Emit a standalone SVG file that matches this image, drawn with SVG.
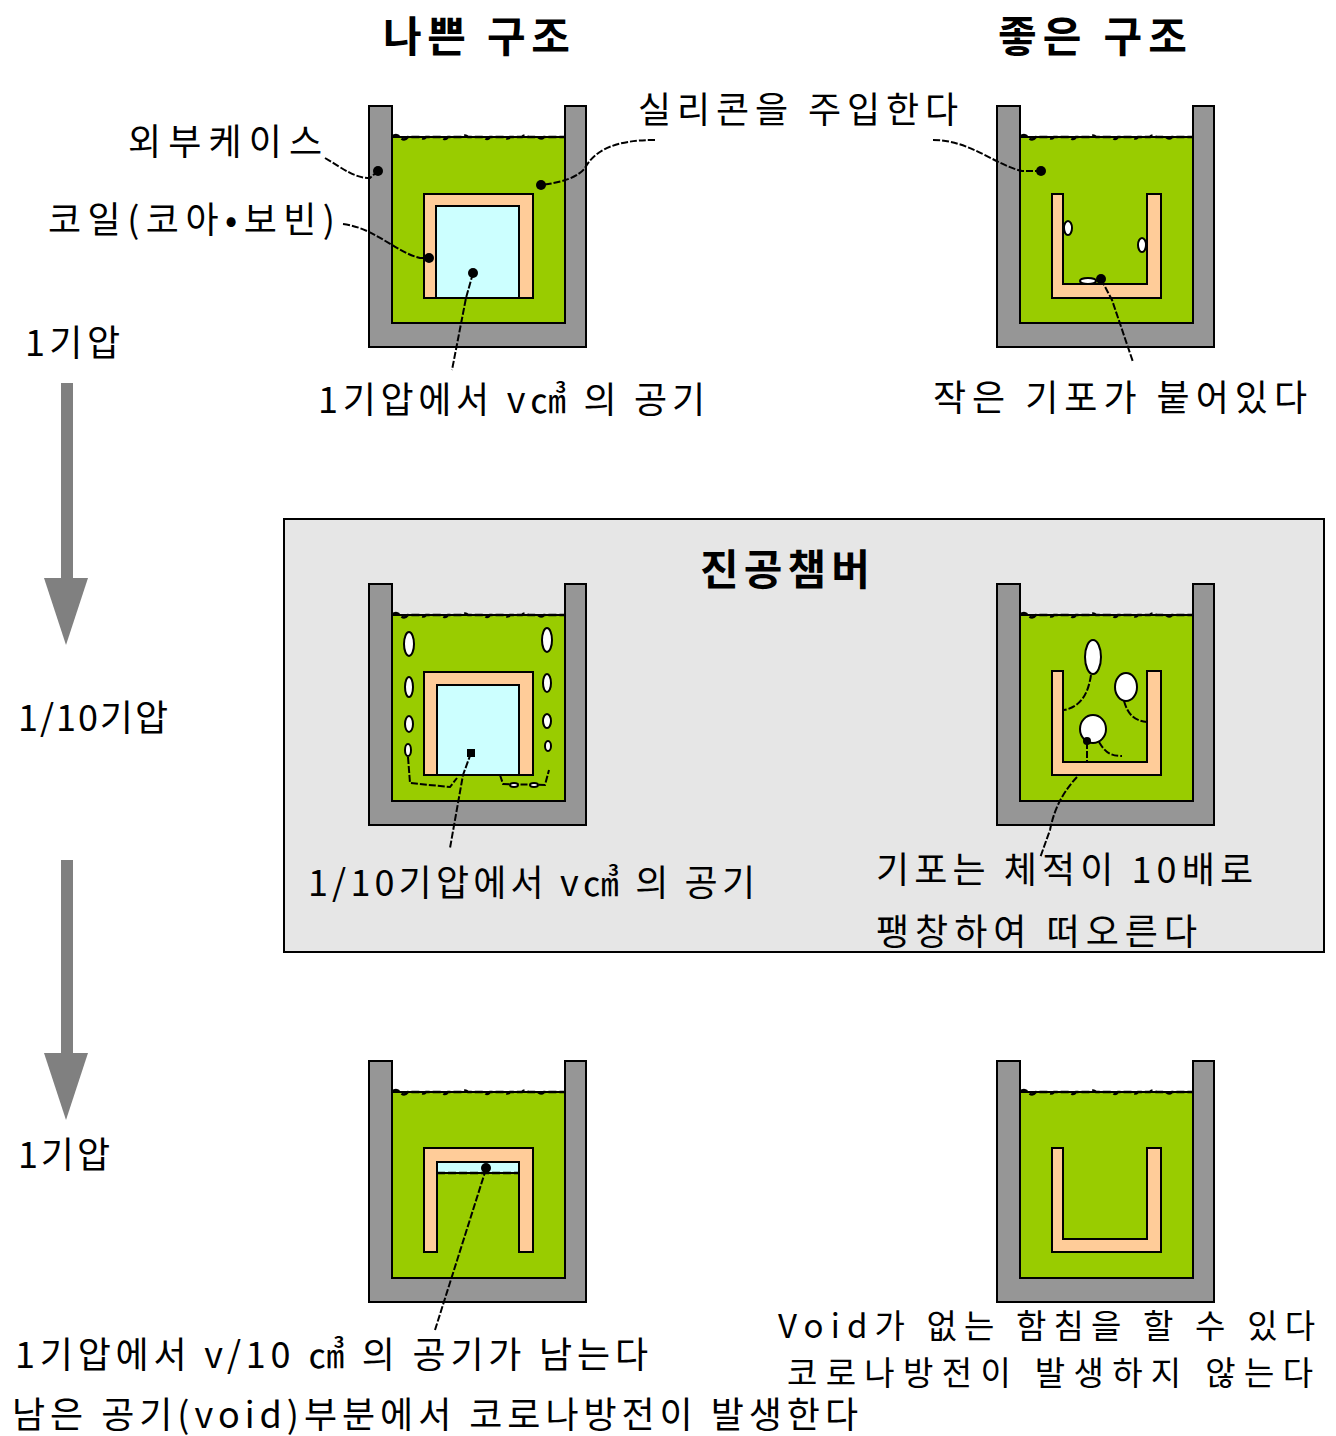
<svg xmlns="http://www.w3.org/2000/svg" xmlns:xlink="http://www.w3.org/1999/xlink" width="1336" height="1436" viewBox="0 0 1336 1436">
  <style>
    .txt { font-family: "Noto Sans CJK KR", "Noto Sans", sans-serif; font-size: 36px; fill: #000; }
    .txt-sm { font-family: "Noto Sans CJK KR", "Noto Sans", sans-serif; font-size: 33px; fill: #000; }
    .title { font-family: "Noto Sans CJK KR", "Noto Sans", sans-serif; font-size: 42px; font-weight: bold; fill: #000; }
    .wall { fill: #969696; stroke: #000; stroke-width: 2; }
    .liquid { fill: #99cc00; stroke: #000; stroke-width: 2; }
    .surface { fill: none; stroke: #000; stroke-width: 2.5; stroke-dasharray: 8 3; }
    .coil { fill: #ffcc99; stroke: #000; stroke-width: 2; }
    .core { fill: #ccffff; stroke: #000; stroke-width: 2; }
    .bubble { fill: #fff; stroke: #000; stroke-width: 2; }
    .lead { fill: none; stroke: #000; stroke-width: 2; stroke-dasharray: 7 2; }
    .dot { fill: #000; }
    .arrow { fill: #808080; }
  </style>
  <defs>
    <!-- container: gray case with silicone filled to the surface line -->
    <g id="cup">
      <path class="wall" d="M0,0 H23 V217 H196 V0 H217 V241 H0 Z"/>
      <rect class="liquid" x="23" y="31" width="173" height="186"/>
      <path class="surface" d="M23,31 q4,-4 8,0 q4,5 8,0 h12 q3,3 6,0 h16 q3,4 6,0 h14 q3,-3 6,0 h16 q3,4 6,0 h14 q3,3 6,0 h12 q3,-3 6,0 h10 q3,3 6,0 h21"/>
    </g>
  </defs>

  <rect width="1336" height="1436" fill="#fff"/>

  <!-- vacuum chamber background -->
  <g id="chamber">
    <rect x="284" y="519" width="1040" height="433" fill="#e6e6e6" stroke="#000" stroke-width="2"/>
    <text class="title" x="700" y="585" textLength="170" lengthAdjust="spacing">진공챔버</text>
  </g>

  <!-- column titles -->
  <g id="titles">
    <text class="title" x="383" y="52" textLength="187" lengthAdjust="spacing">나쁜 구조</text>
    <text class="title" x="998" y="52" textLength="189" lengthAdjust="spacing">좋은 구조</text>
  </g>

  <!-- pressure steps -->
  <g id="pressure">
    <text class="txt" x="25" y="356" textLength="95" lengthAdjust="spacing">1기압</text>
    <rect class="arrow" x="61" y="383" width="12" height="197"/>
    <polygon class="arrow" points="44,578 88,578 66,645"/>
    <text class="txt" x="18" y="731" textLength="150" lengthAdjust="spacing">1/10기압</text>
    <rect class="arrow" x="61" y="860" width="12" height="195"/>
    <polygon class="arrow" points="44,1053 88,1053 66,1120"/>
    <text class="txt" x="18" y="1168" textLength="92" lengthAdjust="spacing">1기압</text>
  </g>

  <!-- bad structure, 1 atm -->
  <g id="bad-1atm">
    <use xlink:href="#cup" x="369" y="106"/>
    <rect class="coil" x="424" y="194" width="109" height="104"/>
    <rect class="core" x="436" y="206" width="83" height="92"/>
  </g>

  <!-- good structure, 1 atm -->
  <g id="good-1atm">
    <use xlink:href="#cup" x="997" y="106"/>
    <path class="coil" d="M1052,194 H1063 V284 H1147 V194 H1161 V298 H1052 Z"/>
    <ellipse class="bubble" cx="1068" cy="228" rx="4" ry="7"/>
    <ellipse class="bubble" cx="1142" cy="245" rx="4" ry="7"/>
    <ellipse class="bubble" cx="1088" cy="281" rx="8" ry="3"/>
  </g>

  <!-- bad structure, 1/10 atm -->
  <g id="bad-low">
    <use xlink:href="#cup" x="369" y="584"/>
    <rect class="coil" x="424" y="672" width="109" height="103"/>
    <rect class="core" x="437" y="685" width="82" height="90"/>
    <ellipse class="bubble" cx="409" cy="644" rx="5" ry="12"/>
    <ellipse class="bubble" cx="409" cy="687" rx="4" ry="10"/>
    <ellipse class="bubble" cx="409" cy="724" rx="4" ry="8"/>
    <ellipse class="bubble" cx="408" cy="750" rx="3" ry="6"/>
    <ellipse class="bubble" cx="547" cy="640" rx="5" ry="12"/>
    <ellipse class="bubble" cx="547" cy="683" rx="4" ry="9"/>
    <ellipse class="bubble" cx="547" cy="721" rx="4" ry="7"/>
    <ellipse class="bubble" cx="548" cy="746" rx="3" ry="5"/>
    <path class="lead" d="M408,757 L410,783 L450,787 L457,778"/>
    <path class="lead" d="M500,775 L503,784 L545,785 L549,770"/>
    <ellipse class="bubble" cx="514" cy="785" rx="4" ry="2"/>
    <ellipse class="bubble" cx="534" cy="785" rx="4" ry="2"/>
  </g>

  <!-- good structure, 1/10 atm -->
  <g id="good-low">
    <use xlink:href="#cup" x="997" y="584"/>
    <path class="coil" d="M1052,671 H1063 V762 H1147 V671 H1161 V775 H1052 Z"/>
    <ellipse class="bubble" cx="1093" cy="657" rx="8" ry="17"/>
    <ellipse class="bubble" cx="1126" cy="687" rx="11" ry="14"/>
    <ellipse class="bubble" cx="1093" cy="729" rx="13" ry="14"/>
    <path class="lead" d="M1091,675 C1088,695 1080,707 1064,710"/>
    <path class="lead" d="M1124,701 C1128,715 1135,721 1147,722"/>
    <path class="lead" d="M1087,742 L1087,762"/>
    <path class="lead" d="M1099,742 C1105,752 1110,756 1122,756"/>
    <circle class="dot" cx="1087" cy="741" r="4"/>
  </g>

  <!-- bad structure, back to 1 atm -->
  <g id="bad-after">
    <use xlink:href="#cup" x="369" y="1061"/>
    <path class="coil" d="M424,1252 V1148 H533 V1252 H519 V1162 H437 V1252 Z"/>
    <rect class="core" x="437" y="1162" width="82" height="11"/>
    <path class="surface" d="M437,1173 h82"/>
  </g>

  <!-- good structure, back to 1 atm -->
  <g id="good-after">
    <use xlink:href="#cup" x="997" y="1061"/>
    <path class="coil" d="M1052,1148 H1063 V1239 H1147 V1148 H1161 V1252 H1052 Z"/>
  </g>

  <!-- leader lines -->
  <g id="connectors">
    <path class="lead" d="M325,158 C345,170 355,178 370,178 L378,171"/>
    <circle class="dot" cx="378" cy="171" r="5"/>
    <path class="lead" d="M655,140 C615,140 595,150 585,168 Q575,181 541,185"/>
    <circle class="dot" cx="541" cy="185" r="5"/>
    <path class="lead" d="M933,140 C970,140 995,165 1022,171 L1041,171"/>
    <circle class="dot" cx="1041" cy="171" r="5"/>
    <path class="lead" d="M343,224 C375,228 395,252 420,258 L429,258"/>
    <circle class="dot" cx="429" cy="258" r="5"/>
    <path class="lead" d="M473,273 L466,298 L452,370"/>
    <circle class="dot" cx="473" cy="273" r="5"/>
    <path class="lead" d="M1101,279 L1112,300 L1133,362"/>
    <circle class="dot" cx="1101" cy="279" r="5"/>
    <path class="lead" d="M471,753 L463,775 L450,848"/>
    <rect class="dot" x="467" y="749" width="8" height="8"/>
    <path class="lead" d="M1077,777 C1065,790 1055,805 1050,830 L1040,858"/>
    <path class="lead" d="M486,1169 L435,1330"/>
    <circle class="dot" cx="486" cy="1168" r="5"/>
  </g>

  <!-- labels -->
  <g id="labels">
    <text class="txt" x="128" y="155" textLength="194" lengthAdjust="spacing">외부케이스</text>
    <text class="txt" x="638" y="123" textLength="320" lengthAdjust="spacing">실리콘을 주입한다</text>
    <text class="txt" x="48" y="233" textLength="287" lengthAdjust="spacing">코일(코아•보빈)</text>
    <text class="txt" x="318" y="413" textLength="387" lengthAdjust="spacing">1기압에서 v㎤ 의 공기</text>
    <text class="txt" x="933" y="411" textLength="374" lengthAdjust="spacing">작은 기포가 붙어있다</text>
    <text class="txt" x="308" y="896" textLength="447" lengthAdjust="spacing">1/10기압에서 v㎤ 의 공기</text>
    <text class="txt" x="876" y="883" textLength="377" lengthAdjust="spacing">기포는 체적이 10배로</text>
    <text class="txt" x="876" y="945" textLength="321" lengthAdjust="spacing">팽창하여 떠오른다</text>
    <text class="txt" x="15" y="1368" textLength="633" lengthAdjust="spacing">1기압에서 v/10 ㎤ 의 공기가 남는다</text>
    <text class="txt" x="12" y="1428" textLength="846" lengthAdjust="spacing">남은 공기(void)부분에서 코로나방전이 발생한다</text>
    <text class="txt-sm" x="778" y="1338" textLength="537" lengthAdjust="spacing">Void가 없는 함침을 할 수 있다</text>
    <text class="txt-sm" x="787" y="1385" textLength="526" lengthAdjust="spacing">코로나방전이 발생하지 않는다</text>
  </g>
</svg>
